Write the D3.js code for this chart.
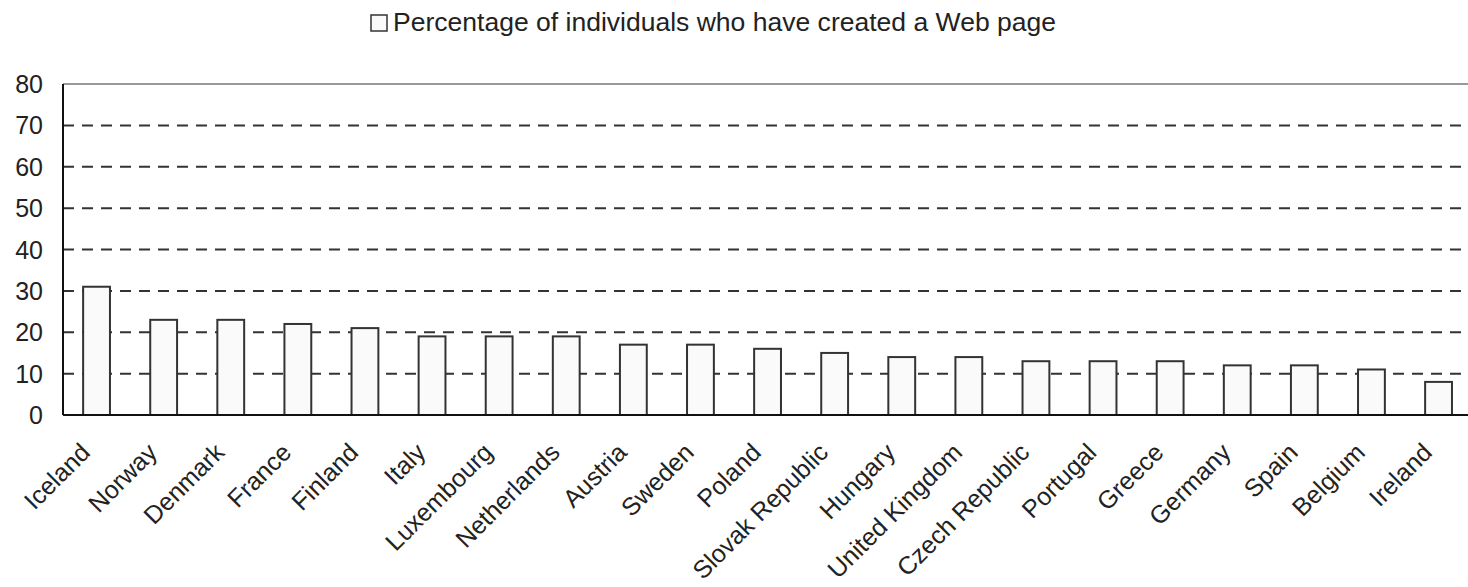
<!DOCTYPE html>
<html>
<head>
<meta charset="utf-8">
<script src="https://d3js.org/d3.v7.min.js"></script>
<style>
	body { margin: 0; background: #fff; }
	text { font-family: "Liberation Sans", Arial, sans-serif; fill: #222; }
</style>
</head>
<body>
<script>
/******************/
/*     data       */
/******************/
var countries = ["Iceland", "Norway", "Denmark", "France", "Finland", "Italy", "Luxembourg",
	"Netherlands", "Austria", "Sweden", "Poland", "Slovak Republic", "Hungary", "United Kingdom",
	"Czech Republic", "Portugal", "Greece", "Germany", "Spain", "Belgium", "Ireland"];
var webPage = [31, 23, 23, 22, 21, 19, 19, 19, 17, 17, 16, 15, 14, 14, 13, 13, 13, 12, 12, 11, 8];
var yTicks = [0, 10, 20, 30, 40, 50, 60, 70, 80];
var seriesName = "Percentage of individuals who have created a Web page";

/******************/
/*   d3 init var  */
/******************/
var W = 1468, H = 587;
var margin = {top: 84, left: 63, bottom: 172};
var plotRight = margin.left + 67.1 * countries.length; // runs past the right edge, like the picture

var x = d3.scaleBand()
	.domain(countries)
	.range([margin.left, plotRight])
	.paddingInner(0.6)
	.paddingOuter(0.3);
var y = d3.scaleLinear().domain([0, 80]).range([H - margin.bottom, margin.top]);

var svg = d3.select("body")
	.append("svg")
	.attr("width", W)
	.attr("height", H);

/******************/
/*    d3 draw     */
/******************/
// dashed grid lines (10..70), top line is a plain grey border
svg.append("g")
	.selectAll("line")
	.data(yTicks.filter(function(d) { return d > 0 && d < 80; }))
	.enter()
	.append("line")
	.attr("x1", margin.left)
	.attr("x2", W)
	.attr("y1", function(d) { return y(d); })
	.attr("y2", function(d) { return y(d); })
	.attr("stroke", "#333")
	.attr("stroke-width", 2)
	.attr("stroke-dasharray", "11,8");

svg.append("line")
	.attr("x1", margin.left)
	.attr("x2", W)
	.attr("y1", y(80))
	.attr("y2", y(80))
	.attr("stroke", "#999")
	.attr("stroke-width", 2);

// bars
svg.append("g")
	.selectAll("rect")
	.data(webPage)
	.enter()
	.append("rect")
	.attr("x", function(d, i) { return x(countries[i]); })
	.attr("y", function(d) { return y(d); })
	.attr("width", x.bandwidth())
	.attr("height", function(d) { return y(0) - y(d); })
	.attr("fill", "#fafafa")
	.attr("stroke", "#333")
	.attr("stroke-width", 2);

// axes lines
svg.append("line")
	.attr("x1", margin.left).attr("x2", margin.left)
	.attr("y1", y(80)).attr("y2", y(0))
	.attr("stroke", "#111").attr("stroke-width", 2);
svg.append("line")
	.attr("x1", margin.left).attr("x2", W)
	.attr("y1", y(0)).attr("y2", y(0))
	.attr("stroke", "#111").attr("stroke-width", 2);

// y tick labels
svg.append("g")
	.selectAll("text")
	.data(yTicks)
	.enter()
	.append("text")
	.attr("x", 43)
	.attr("y", function(d) { return y(d); })
	.attr("dy", "0.36em")
	.attr("text-anchor", "end")
	.attr("font-size", "25px")
	.text(function(d) { return d; });

// x labels, rotated
svg.append("g")
	.selectAll("text")
	.data(countries)
	.enter()
	.append("text")
	.attr("transform", function(d) {
		return "translate(" + (x(d) + x.bandwidth() / 2 - 5) + "," + 454 + ") rotate(-45)";
	})
	.attr("text-anchor", "end")
	.attr("font-size", "25px")
	.text(function(d) { return d; });

// legend
var legend = svg.append("g");
legend.append("rect")
	.attr("x", 371).attr("y", 15)
	.attr("width", 16).attr("height", 16)
	.attr("fill", "#fafafa")
	.attr("stroke", "#333")
	.attr("stroke-width", 1.5);
legend.append("text")
	.attr("x", 393)
	.attr("y", 31)
	.attr("font-size", "25px")
	.attr("textLength", 663)
	.attr("lengthAdjust", "spacingAndGlyphs")
	.text(seriesName);
</script>
</body>
</html>
